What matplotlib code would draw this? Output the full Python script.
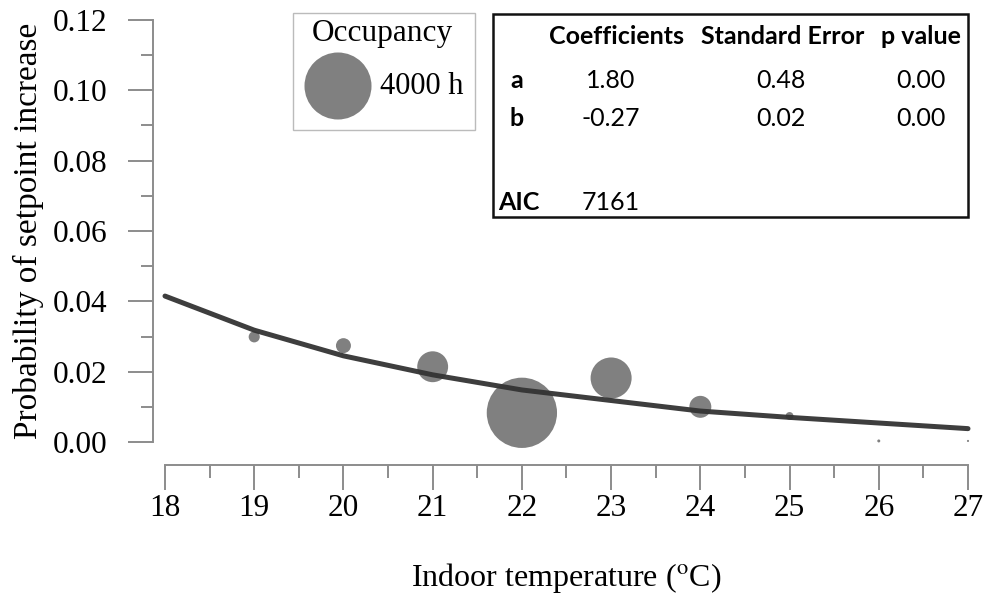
import matplotlib
matplotlib.use('Agg')
import matplotlib.pyplot as plt
from matplotlib.ticker import MultipleLocator
from matplotlib.patches import Rectangle

plt.rcParams['font.family'] = 'Liberation Serif'
plt.rcParams['mathtext.fontset'] = 'stix'

# fitted curve, read at each whole degree
temps = [18, 19, 20, 21, 22, 23, 24, 25, 26, 27]
fit_prob = [0.0415, 0.0318, 0.0245, 0.0191, 0.0148, 0.0118, 0.0088, 0.0070, 0.0054, 0.0038]

# observed probabilities, bubble area = occupied hours
bubble_temps = [19, 20, 21, 22, 23, 24, 25, 26, 27]
bubble_prob = [0.0299, 0.0274, 0.0214, 0.0083, 0.0182, 0.0100, 0.0074, 0.0003, 0.0003]
occupancy_h = [110, 200, 850, 4400, 1500, 430, 55, 8, 4]
legend_h = 4000

# regression table
tbl_header = ['Coefficients', 'Standard Error', 'p value']
tbl_rows = ['a', 'b', '', 'AIC']
tbl_coef = ['1.80', '-0.27', '', '7161']
tbl_se = ['0.48', '0.02', '', '']
tbl_p = ['0.00', '0.00', '', '']

W, H = 983, 597
SIZE = 0.582  # pt^2 per hour
GREY = '#808080'
AXC = '#8c8c8c'

fig = plt.figure(figsize=(W / 100, H / 100), dpi=100)
ax = fig.add_axes([165 / W, 1 - 442 / H, (968 - 165) / W, (442 - 20) / H])

ax.scatter(bubble_temps, bubble_prob, s=[h * SIZE for h in occupancy_h],
           color=GREY, edgecolor='none', zorder=2, clip_on=False)
ax.plot(temps, fit_prob, color='#333333', lw=3.6, alpha=0.95, zorder=3,
        solid_capstyle='round', clip_on=False)

ax.set_xlim(18, 27)
ax.set_ylim(0, 0.12)
for s in ['top', 'right']:
    ax.spines[s].set_visible(False)
ax.spines['left'].set_position(('outward', 8.6))
ax.spines['bottom'].set_position(('outward', 16.6))
ax.spines['left'].set_bounds(0, 0.12)
ax.spines['bottom'].set_bounds(18, 27)
for s in ['left', 'bottom']:
    ax.spines[s].set_color(AXC)
    ax.spines[s].set_linewidth(1.4)

ax.xaxis.set_major_locator(MultipleLocator(1))
ax.xaxis.set_minor_locator(MultipleLocator(0.5))
ax.yaxis.set_major_locator(MultipleLocator(0.02))
ax.yaxis.set_minor_locator(MultipleLocator(0.01))
ax.yaxis.set_major_formatter(lambda v, p: f'{v:.2f}')
ax.tick_params(which='major', direction='out', length=18, width=1.4, color=AXC, labelsize=22.5)
ax.tick_params(which='minor', direction='out', length=9, width=1.4, color=AXC)
ax.tick_params(axis='y', which='major', pad=15)
ax.tick_params(axis='x', which='major', pad=3)

ax.set_xlabel('Indoor temperature ($^{\\mathrm{o}}$C)', fontsize=23, labelpad=27)
ax.set_ylabel('Probability of setpoint increase', fontsize=24, labelpad=6)

# overlay in pixel coordinates for legend box and table
ov = fig.add_axes([0, 0, 1, 1])
ov.set_xlim(0, W)
ov.set_ylim(H, 0)
ov.axis('off')
ov.patch.set_alpha(0)

ov.add_patch(Rectangle((293, 13), 182, 117, fill=False, ec='#bbbbbb', lw=1))
ov.text(382, 33, 'Occupancy', fontsize=22.5, ha='center', va='center')
ov.scatter([338], [86], s=legend_h * SIZE, color=GREY, edgecolor='none')
ov.text(380, 86, f'{legend_h} h', fontsize=22, ha='left', va='center')

ov.add_patch(Rectangle((493, 14), 475, 203, fill=False, ec='#111111', lw=1.8))
tfont = dict(family='Lato', fontsize=18)
head_x = [616, 783, 921]
for x, t in zip(head_x, tbl_header):
    ov.text(x, 37, t, ha='center', va='center', weight='bold', **tfont)
row_y = [80, 118, 160, 202]
for y, r, c, se, p in zip(row_y, tbl_rows, tbl_coef, tbl_se, tbl_p):
    ov.text(498 if r == 'AIC' else 517, y, r, ha='left' if r == 'AIC' else 'center',
            va='center', weight='bold', **tfont)
    ov.text(611, y, c, ha='center', va='center', **tfont)
    ov.text(806, y, se, ha='right', va='center', **tfont)
    ov.text(946, y, p, ha='right', va='center', **tfont)

fig.savefig('out.png', dpi=100)
